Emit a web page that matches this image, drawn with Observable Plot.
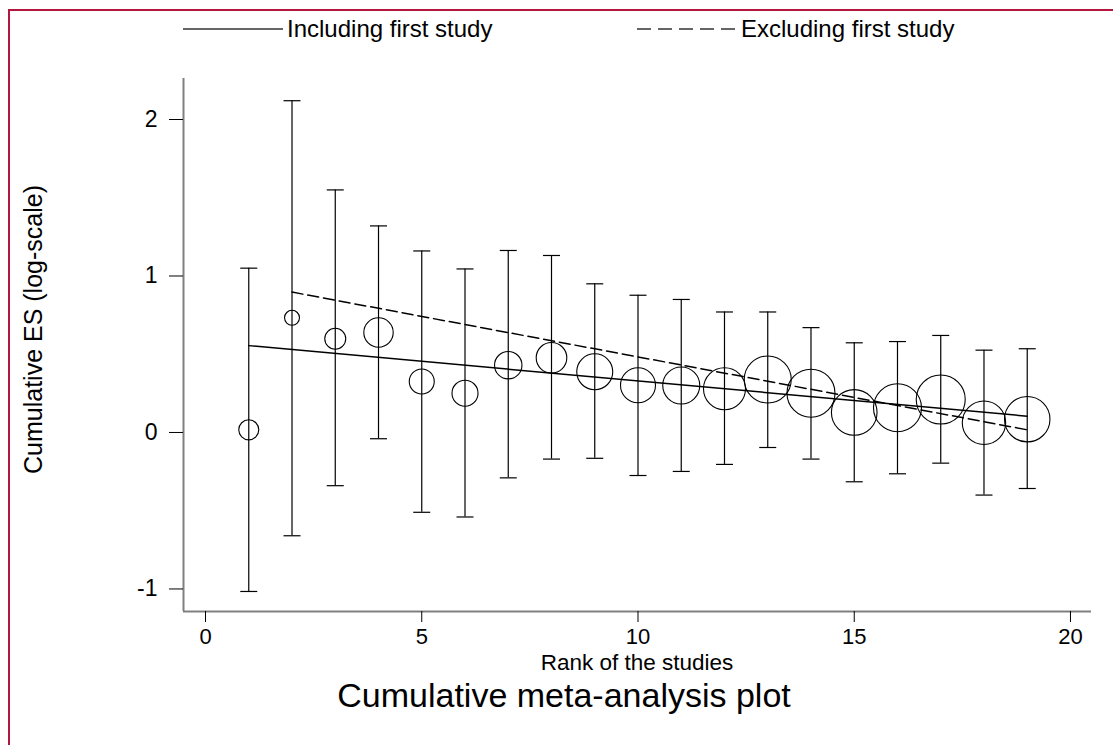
<!DOCTYPE html>
<html><head><meta charset="utf-8">
<script src="https://cdn.jsdelivr.net/npm/d3@7"></script>
<script src="https://cdn.jsdelivr.net/npm/@observablehq/plot@0.6"></script>
<style>
body{margin:0;background:#fff;font-family:"Liberation Sans",Arial,sans-serif;}
#wrap{position:relative;width:1113px;height:745px;overflow:hidden;background:#fff;}
.fr{position:absolute;background:#b3173d;}
#chart{position:absolute;left:0;top:0;}
.leg{position:absolute;font-size:24px;line-height:24px;color:#000;white-space:nowrap;}
#legsvg{position:absolute;left:0;top:0;}
#xlab{position:absolute;left:437px;width:400px;top:650px;text-align:center;font-size:22.5px;line-height:25px;color:#000;white-space:nowrap;}
#ylab{position:absolute;left:-167px;width:400px;top:317px;text-align:center;font-size:25px;line-height:25px;color:#000;white-space:nowrap;transform:rotate(-90deg);transform-origin:50% 50%;}
#title{position:absolute;left:0;width:1128px;text-align:center;font-size:34px;line-height:39px;color:#000;white-space:nowrap;}
</style></head>
<body>
<div id="wrap">
  <div class="fr" style="left:8px;top:9px;width:1105px;height:2px"></div>
  <div class="fr" style="left:8px;top:9px;width:2px;height:736px"></div>
  <div id="chart"></div>
  <svg id="legsvg" width="1113" height="60"></svg>
  <div class="leg" id="leg1" style="left:287px;top:17px"></div>
  <div class="leg" id="leg2" style="left:741px;top:17px"></div>
  <div id="xlab"></div>
  <div id="ylab"></div>
  <div id="title" style="top:676px"></div>
</div>
<script>
// ---- data ----
const ranks   = [1,2,3,4,5,6,7,8,9,10,11,12,13,14,15,16,17,18,19];
const es      = [0.017,0.733,0.599,0.639,0.326,0.251,0.430,0.477,0.388,0.302,0.300,0.279,0.339,0.251,0.128,0.158,0.211,0.062,0.085];
const upper   = [1.05,2.12,1.55,1.32,1.16,1.045,1.163,1.131,0.95,0.877,0.85,0.77,0.77,0.67,0.573,0.581,0.62,0.526,0.535];
const lower   = [-1.016,-0.66,-0.34,-0.04,-0.51,-0.54,-0.29,-0.17,-0.165,-0.275,-0.249,-0.204,-0.096,-0.17,-0.315,-0.264,-0.196,-0.40,-0.358];
const weights = [16.7,9.3,18.3,36,26,28.2,31.3,39,54,51,57,73.5,92,96,86.7,96,100,78.5,86];
const seriesNames = ["Including first study","Excluding first study"];
const fitStartRank = [1,2];
const fitEndRank   = [19,19];
const fitStartES   = [0.555,0.897];
const fitEndES     = [0.104,0.017];
const xTicks = [0,5,10,15,20];
const yTicks = [-1,0,1,2];
const xLabel = "Rank of the studies";
const yLabel = "Cumulative ES (log-scale)";
const titleText = "Cumulative meta-analysis plot";

// ---- build tables ----
const studies = ranks.map((r,i)=>({rank:r, es:es[i], lo:lower[i], hi:upper[i], w:weights[i]}));
const fitIncl = [{rank:fitStartRank[0], es:fitStartES[0]},{rank:fitEndRank[0], es:fitEndES[0]}];
const fitExcl = [{rank:fitStartRank[1], es:fitStartES[1]},{rank:fitEndRank[1], es:fitEndES[1]}];

const xDomain = [-0.509, 20.486];
const yDomain = [-1.144, 2.262];

const capSymbol = {draw(ctx){ ctx.moveTo(-8.5,0); ctx.lineTo(8.5,0); }};
const plain = d => String(d);

const plot = Plot.plot({
  width:1113, height:680,
  marginLeft:183, marginRight:22, marginTop:78, marginBottom:69,
  style:{fontFamily:"'Liberation Sans', Arial, sans-serif", fontSize:"22px", color:"#000", background:"transparent"},
  x:{domain:xDomain},
  y:{domain:yDomain},
  r:{type:"sqrt", domain:[0,100], range:[0,24.5]},
  marks:[
    Plot.ruleX(studies,{x:"rank", y1:"lo", y2:"hi", stroke:"#000", strokeWidth:1.2}),
    Plot.dot(studies,{x:"rank", y:"hi", symbol:capSymbol, r:4, fill:"none", stroke:"#000", strokeWidth:1.2}),
    Plot.dot(studies,{x:"rank", y:"lo", symbol:capSymbol, r:4, fill:"none", stroke:"#000", strokeWidth:1.2}),
    Plot.dot(studies,{x:"rank", y:"es", r:"w", fill:"none", stroke:"#000", strokeWidth:1.1}),
    Plot.line(fitIncl,{x:"rank", y:"es", stroke:"#000", strokeWidth:1.5}),
    Plot.line(fitExcl,{x:"rank", y:"es", stroke:"#000", strokeWidth:1.5, strokeDasharray:"11,5"}),
    Plot.ruleX([xDomain[0]],{stroke:"#808080", strokeWidth:2}),
    Plot.ruleY([yDomain[0]],{stroke:"#808080", strokeWidth:2}),
    Plot.axisX({ticks:xTicks, tickSize:11, tickPadding:6, tickFormat:plain, label:null, fontSize:22}),
    Plot.axisY({ticks:yTicks, tickSize:14, tickPadding:12, tickFormat:plain, label:null, fontSize:23})
  ]
});
document.getElementById("chart").appendChild(plot);

// ---- legend & labels ----
const ls = d3.select("#legsvg");
ls.append("line").attr("x1",183).attr("x2",283).attr("y1",29).attr("y2",29).attr("stroke","#333").attr("stroke-width",1.5);
ls.append("line").attr("x1",637).attr("x2",738).attr("y1",29).attr("y2",29).attr("stroke","#333").attr("stroke-width",1.5).attr("stroke-dasharray","14,7");
document.getElementById("leg1").textContent = seriesNames[0];
document.getElementById("leg2").textContent = seriesNames[1];
document.getElementById("xlab").textContent = xLabel;
document.getElementById("ylab").textContent = yLabel;
document.getElementById("title").textContent = titleText;
</script>
</body></html>
